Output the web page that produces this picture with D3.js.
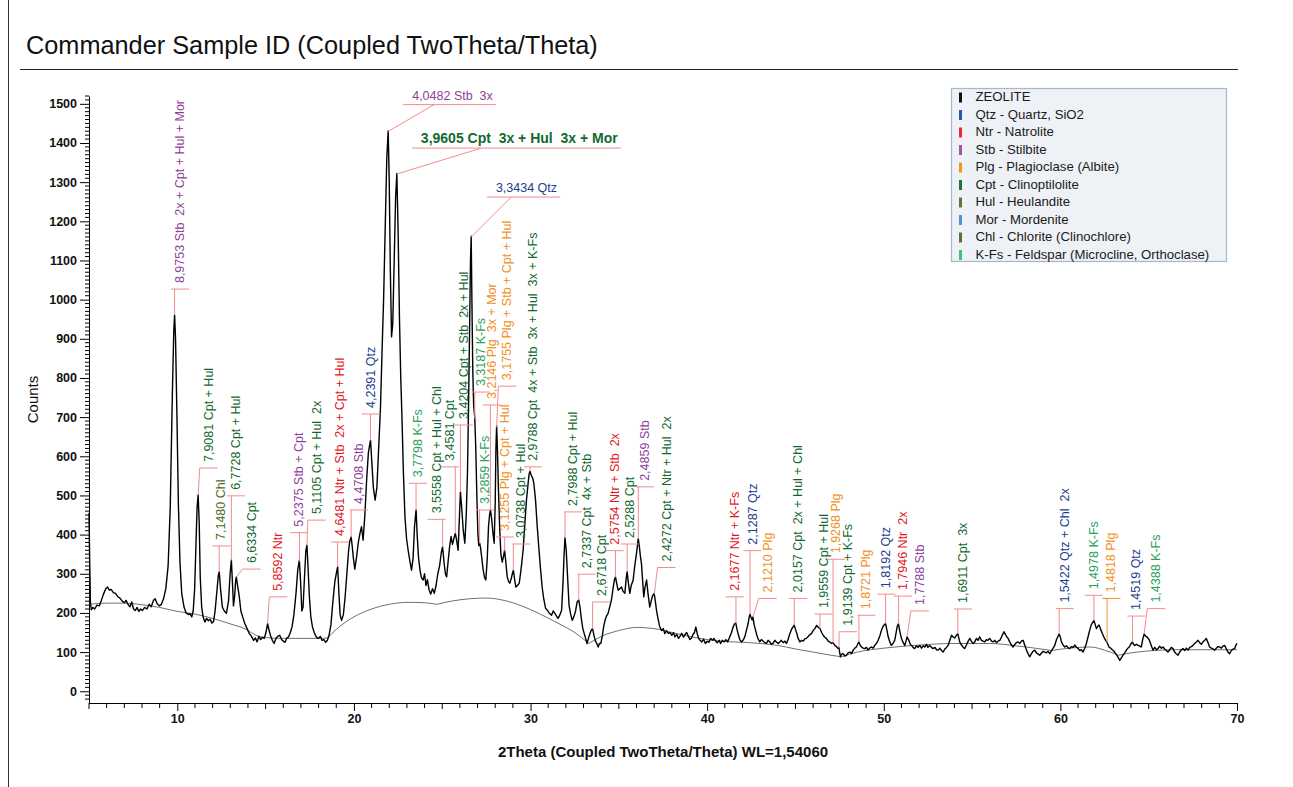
<!DOCTYPE html>
<html>
<head>
<meta charset="utf-8">
<script src="https://cdn.jsdelivr.net/npm/d3@7"></script>
<style>
  body { margin: 0; background: #fff; }
  svg { display: block; font-family: "Liberation Sans", Arial, sans-serif; }
</style>
</head>
<body>
<svg id="chart" width="1293" height="787"></svg>
<script>
// ---- measured diffractogram: [2Theta (deg), counts] ----
const pattern = [
[5.00,455],[5.04,330],[5.08,228],[5.13,208],[5.22,214],[5.32,210],[5.45,220],[5.58,218],[5.7,232],[5.82,248],
[5.95,262],[6.05,266],[6.15,258],[6.25,260],[6.38,252],[6.5,250],[6.62,242],[6.75,238],[6.88,230],[7.0,226],
[7.1,232],[7.2,222],[7.32,216],[7.42,228],[7.52,210],[7.62,206],[7.72,214],[7.82,204],[7.92,210],[8.02,206],
[8.15,214],[8.28,210],[8.4,222],[8.52,216],[8.65,232],[8.75,236],[8.85,224],[8.98,218],[9.1,222],[9.22,236],
[9.35,262],[9.48,320],[9.6,470],[9.72,760],[9.8,920],[9.847,961],[9.9,900],[9.98,700],[10.06,480],[10.15,330],
[10.25,250],[10.38,215],[10.5,200],[10.62,196],[10.72,198],[10.82,190],[10.9,205],[10.98,260],[11.06,380],[11.12,470],
[11.18,501],[11.24,430],[11.3,290],[11.38,215],[11.46,190],[11.56,177],[11.66,186],[11.76,180],[11.86,184],[11.96,174],
[12.05,178],[12.14,205],[12.24,255],[12.32,295],[12.373,305],[12.45,260],[12.55,215],[12.66,205],[12.78,199],[12.9,230],
[12.99,300],[13.06,335],[13.12,280],[13.18,218],[13.25,245],[13.3,280],[13.34,292],[13.42,268],[13.5,245],[13.6,205],
[13.7,190],[13.82,173],[13.95,160],[14.08,147],[14.2,140],[14.32,130],[14.42,136],[14.52,126],[14.62,140],[14.72,132],
[14.82,138],[14.92,135],[15.02,150],[15.11,173],[15.2,155],[15.28,142],[15.38,130],[15.48,122],[15.58,134],[15.68,140],
[15.8,143],[15.9,132],[16.0,128],[16.1,125],[16.2,136],[16.3,139],[16.4,150],[16.5,165],[16.6,195],[16.72,250],
[16.82,310],[16.91,335],[16.98,280],[17.05,205],[17.12,215],[17.2,290],[17.28,360],[17.34,373],[17.4,320],[17.48,240],
[17.56,190],[17.65,165],[17.75,150],[17.86,139],[17.98,135],[18.1,140],[18.2,130],[18.3,132],[18.4,125],[18.5,130],
[18.6,145],[18.7,170],[18.8,225],[18.92,280],[19.02,305],[19.08,318],[19.15,250],[19.22,195],[19.3,181],[19.4,195],
[19.5,240],[19.6,300],[19.7,360],[19.76,382],[19.84,394],[19.9,372],[19.97,340],[20.05,312],[20.15,343],[20.25,380],
[20.35,405],[20.43,420],[20.52,386],[20.62,450],[20.72,540],[20.82,610],[20.94,641],[21.02,580],[21.1,520],[21.2,488],
[21.3,520],[21.4,620],[21.5,720],[21.6,880],[21.68,1000],[21.78,1200],[21.86,1360],[21.94,1431],[22.0,1300],[22.06,1080],
[22.13,905],[22.2,940],[22.28,1100],[22.36,1260],[22.43,1322],[22.5,1180],[22.58,950],[22.65,803],[22.72,700],[22.8,560],
[22.89,445],[22.98,390],[23.07,360],[23.16,335],[23.26,309],[23.35,340],[23.43,420],[23.52,463],[23.58,400],[23.66,340],
[23.74,310],[23.82,290],[23.92,284],[24.0,300],[24.08,270],[24.16,285],[24.25,260],[24.35,248],[24.45,262],[24.55,250],
[24.65,270],[24.75,300],[24.85,320],[24.95,355],[25.02,369],[25.1,330],[25.18,300],[25.25,292],[25.33,330],[25.42,370],
[25.5,395],[25.58,375],[25.66,390],[25.74,403],[25.8,390],[25.9,360],[25.97,440],[26.03,509],[26.1,470],[26.19,411],
[26.28,378],[26.36,450],[26.43,560],[26.5,760],[26.56,960],[26.6,1100],[26.64,1162],[26.68,1000],[26.73,820],[26.78,730],
[26.84,700],[26.9,620],[26.96,500],[27.02,400],[27.07,372],[27.12,378],[27.17,366],[27.24,340],[27.32,309],[27.4,290],
[27.47,284],[27.55,340],[27.62,420],[27.68,450],[27.73,463],[27.8,440],[27.88,400],[27.94,378],[28.0,480],[28.04,620],
[28.08,678],[28.13,610],[28.18,520],[28.25,420],[28.32,350],[28.4,330],[28.47,345],[28.53,360],[28.6,330],[28.68,292],
[28.76,280],[28.83,276],[28.92,290],[28.98,302],[29.03,309],[29.1,285],[29.17,266],[29.26,270],[29.36,276],[29.46,310],
[29.58,360],[29.68,430],[29.77,488],[29.86,530],[29.92,555],[29.97,562],[30.05,550],[30.12,545],[30.19,530],[30.28,490],
[30.38,420],[30.48,360],[30.57,310],[30.66,265],[30.75,235],[30.85,212],[30.95,207],[31.05,200],[31.19,194],[31.28,205],
[31.38,199],[31.47,192],[31.56,186],[31.66,195],[31.76,207],[31.84,280],[31.9,350],[31.95,392],[32.02,360],[32.1,290],
[32.18,220],[32.26,199],[32.36,181],[32.45,190],[32.55,205],[32.64,228],[32.73,233],[32.8,215],[32.89,181],[32.96,160],
[33.04,147],[33.12,135],[33.2,122],[33.28,135],[33.36,147],[33.44,156],[33.51,160],[33.58,145],[33.66,130],[33.75,122],
[33.83,113],[33.9,122],[33.98,122],[34.06,140],[34.14,165],[34.22,181],[34.3,192],[34.39,199],[34.48,215],[34.58,233],
[34.68,265],[34.75,285],[34.81,292],[34.88,275],[34.96,258],[35.05,262],[35.15,266],[35.24,255],[35.34,250],[35.42,290],
[35.47,305],[35.53,280],[35.62,250],[35.7,270],[35.81,284],[35.9,320],[36.0,352],[36.06,375],[36.1,390],[36.16,370],
[36.22,345],[36.28,326],[36.35,280],[36.41,241],[36.48,265],[36.57,284],[36.65,250],[36.75,215],[36.84,232],[36.92,245],
[37.0,250],[37.06,232],[37.13,207],[37.22,185],[37.32,164],[37.42,155],[37.52,160],[37.6,147],[37.7,155],[37.8,148],
[37.9,150],[38.0,143],[38.1,150],[38.17,139],[38.28,145],[38.38,135],[38.46,140],[38.56,148],[38.66,138],[38.75,145],
[38.84,150],[38.94,140],[39.02,132],[39.1,135],[39.2,145],[39.28,150],[39.36,164],[39.45,145],[39.52,135],[39.6,130],
[39.7,126],[39.8,133],[39.9,122],[40.0,128],[40.1,125],[40.2,135],[40.3,130],[40.38,135],[40.48,128],[40.58,124],
[40.68,130],[40.76,122],[40.86,130],[40.96,126],[41.06,132],[41.16,126],[41.28,139],[41.38,150],[41.47,164],[41.55,172],
[41.62,175],[41.68,160],[41.75,147],[41.85,132],[41.94,126],[42.03,130],[42.13,139],[42.22,155],[42.32,173],[42.38,190],
[42.43,197],[42.5,186],[42.55,182],[42.59,190],[42.66,170],[42.79,147],[42.88,134],[42.98,126],[43.07,132],[43.17,128],
[43.26,124],[43.36,122],[43.45,130],[43.55,126],[43.64,120],[43.74,123],[43.83,130],[43.92,126],[44.02,122],[44.11,126],
[44.2,130],[44.3,124],[44.4,128],[44.49,122],[44.58,132],[44.68,147],[44.8,160],[44.93,169],[45.0,158],[45.08,147],
[45.15,135],[45.25,126],[45.34,130],[45.44,128],[45.53,134],[45.62,135],[45.72,140],[45.81,144],[45.9,147],[46.0,155],
[46.1,160],[46.2,168],[46.3,163],[46.39,160],[46.48,150],[46.57,143],[46.66,138],[46.75,135],[46.85,128],[46.94,126],
[47.04,122],[47.13,124],[47.23,117],[47.32,114],[47.4,110],[47.46,112],[47.5,100],[47.55,88],[47.62,95],[47.7,96],
[47.8,90],[47.89,92],[47.98,98],[48.08,100],[48.18,96],[48.27,105],[48.36,110],[48.45,113],[48.52,120],[48.59,126],
[48.66,118],[48.74,113],[48.83,110],[48.92,109],[49.02,112],[49.11,105],[49.2,110],[49.3,113],[49.4,110],[49.49,117],
[49.58,122],[49.68,130],[49.78,142],[49.87,156],[49.96,166],[50.1,173],[50.18,156],[50.25,139],[50.34,126],[50.43,117],
[50.52,122],[50.62,130],[50.7,150],[50.76,165],[50.83,173],[50.9,155],[51.0,135],[51.1,124],[51.19,117],[51.26,128],
[51.32,139],[51.42,130],[51.5,120],[51.57,117],[51.66,112],[51.75,109],[51.85,116],[51.95,112],[52.04,117],[52.14,110],
[52.23,116],[52.32,113],[52.42,120],[52.5,112],[52.6,117],[52.7,112],[52.79,109],[52.9,112],[52.99,106],[53.08,105],
[53.18,110],[53.27,104],[53.36,100],[53.46,108],[53.55,112],[53.64,117],[53.74,130],[53.84,143],[53.92,139],[54.02,136],
[54.11,143],[54.19,147],[54.3,126],[54.4,118],[54.5,112],[54.58,109],[54.68,118],[54.78,128],[54.87,135],[54.96,128],
[55.06,122],[55.15,126],[55.25,135],[55.34,130],[55.43,139],[55.53,130],[55.62,128],[55.72,126],[55.81,132],[55.9,130],
[56.0,135],[56.1,128],[56.19,126],[56.29,130],[56.38,124],[56.47,128],[56.57,130],[56.66,138],[56.74,146],[56.81,152],
[56.9,144],[56.98,138],[57.04,135],[57.13,126],[57.23,118],[57.32,113],[57.42,120],[57.51,124],[57.6,126],[57.7,122],
[57.79,128],[57.89,130],[57.98,118],[58.08,105],[58.17,96],[58.26,88],[58.36,96],[58.45,102],[58.55,105],[58.64,98],
[58.74,95],[58.83,92],[58.92,97],[59.02,102],[59.11,100],[59.2,98],[59.3,102],[59.4,96],[59.5,104],[59.59,110],
[59.68,117],[59.78,132],[59.93,146],[60.0,138],[60.06,126],[60.15,118],[60.25,113],[60.34,116],[60.44,111],[60.53,109],
[60.62,114],[60.72,112],[60.81,118],[60.9,113],[61.0,109],[61.1,104],[61.19,106],[61.28,100],[61.38,110],[61.47,122],
[61.56,138],[61.66,156],[61.75,170],[61.9,181],[61.96,172],[62.04,160],[62.12,166],[62.19,169],[62.28,158],[62.38,147],
[62.47,138],[62.56,130],[62.64,125],[62.75,113],[62.85,110],[62.94,106],[63.02,103],[63.1,98],[63.19,92],[63.28,86],
[63.36,79],[63.45,85],[63.55,92],[63.64,98],[63.74,105],[63.82,110],[63.9,113],[63.98,120],[64.08,126],[64.14,120],
[64.21,117],[64.3,120],[64.4,117],[64.49,115],[64.58,113],[64.66,132],[64.74,146],[64.83,140],[64.92,138],[65.02,132],
[65.12,120],[65.24,105],[65.34,112],[65.44,106],[65.53,109],[65.62,115],[65.72,110],[65.81,113],[65.9,108],[66.0,104],
[66.09,100],[66.19,106],[66.28,112],[66.38,109],[66.47,100],[66.56,96],[66.66,92],[66.75,100],[66.85,106],[66.94,109],
[67.04,104],[67.13,110],[67.23,105],[67.32,112],[67.42,114],[67.51,117],[67.6,122],[67.7,126],[67.79,130],[67.89,124],
[67.98,120],[68.07,126],[68.17,130],[68.26,135],[68.36,124],[68.45,113],[68.55,110],[68.64,108],[68.74,105],[68.83,110],
[68.92,114],[69.02,113],[69.11,110],[69.2,115],[69.3,117],[69.4,108],[69.49,100],[69.58,96],[69.68,104],[69.78,108],
[69.87,109],[69.94,118],[70.0,122]
];

// ---- fitted background, one list per arc ----
const backgroundArcs = [
  [[5,222],[6,225],[7,225],[8,221],[9,214],[10,204],[11,197],[12,186],[13,172],[13.9,158],[14.5,142],[15,137],[16,135],[17,135],[18,135],[18.5,136]],
  [[18.5,136],[19,158],[20,190],[21,210],[22,222],[23,227],[24,226],[24.7,222]],
  [[24.7,222],[25.5,230],[26.5,236],[27.5,238],[28.5,232],[29.5,218],[30.5,198],[31.5,175],[32.5,150],[33.3,122]],
  [[33.3,122],[34,140],[35,155],[36,163],[37,160],[38,150],[39,140],[40,132],[41,127],[42,125],[43,122],[44,117],[45,108],[46,100],[47,92],[47.6,88]],
  [[47.6,88],[48.5,100],[50,110],[52,118],[54,122],[56,122],[57.5,116],[59.5,104]],
  [[59.5,104],[60.5,110],[61.7,113],[62.5,105],[63.3,92]],
  [[63.3,92],[64,98],[65,103],[66.5,106],[68,106],[70,106]]
];

// ---- phase identification: d-spacing (Angstrom), assigned phases, leading phase ----
const peakIds = [
  [8.9753, "Stb  2x + Cpt + Hul + Mor", "Stb"],
  [7.9081, "Cpt + Hul", "Cpt"],
  [7.1480, "Chl", "Chl"],
  [6.7728, "Cpt + Hul", "Cpt"],
  [6.6334, "Cpt", "Cpt"],
  [5.8592, "Ntr", "Ntr"],
  [5.2375, "Stb + Cpt", "Stb"],
  [5.1105, "Cpt + Hul  2x", "Cpt"],
  [4.6481, "Ntr + Stb  2x + Cpt + Hul", "Ntr"],
  [4.4708, "Stb", "Stb"],
  [4.2391, "Qtz", "Qtz"],
  [4.0482, "Stb  3x", "Stb"],
  [3.9605, "Cpt  3x + Hul  3x + Mor", "Cpt"],
  [3.7798, "K-Fs", "K-Fs"],
  [3.5558, "Cpt + Hul + Chl", "Cpt"],
  [3.4581, "Cpt", "Cpt"],
  [3.4204, "Cpt + Stb  2x + Hul", "Cpt"],
  [3.3434, "Qtz", "Qtz"],
  [3.3187, "K-Fs", "K-Fs"],
  [3.2859, "K-Fs", "K-Fs"],
  [3.2146, "Plg  3x + Mor", "Plg"],
  [3.1755, "Plg + Stb + Cpt + Hul", "Plg"],
  [3.1255, "Plg + Cpt + Hul", "Plg"],
  [3.0738, "Cpt + Hul", "Cpt"],
  [2.9788, "Cpt  4x + Stb  3x + Hul  3x + K-Fs", "Cpt"],
  [2.7988, "Cpt + Hul", "Cpt"],
  [2.7337, "Cpt  4x + Stb", "Cpt"],
  [2.6718, "Cpt", "Cpt"],
  [2.5754, "Ntr + Stb  2x", "Ntr"],
  [2.5288, "Cpt", "Cpt"],
  [2.4859, "Stb", "Stb"],
  [2.4272, "Cpt + Ntr + Hul  2x", "Cpt"],
  [2.1677, "Ntr + K-Fs", "Ntr"],
  [2.1287, "Qtz", "Qtz"],
  [2.1210, "Plg", "Plg"],
  [2.0157, "Cpt  2x + Hul + Chl", "Cpt"],
  [1.9559, "Cpt + Hul", "Cpt"],
  [1.9268, "Plg", "Plg"],
  [1.9139, "Cpt + K-Fs", "Cpt"],
  [1.8721, "Plg", "Plg"],
  [1.8192, "Qtz", "Qtz"],
  [1.7946, "Ntr  2x", "Ntr"],
  [1.7788, "Stb", "Stb"],
  [1.6911, "Cpt  3x", "Cpt"],
  [1.5422, "Qtz + Chl  2x", "Qtz"],
  [1.4978, "K-Fs", "K-Fs"],
  [1.4818, "Plg", "Plg"],
  [1.4519, "Qtz", "Qtz"],
  [1.4388, "K-Fs", "K-Fs"]
];

// label anchor in data units: [2Theta, counts, style]  v = vertical, h = horizontal, H = large horizontal
const labelAnchors = [
  [10.15,1027,"v"],[11.78,570,"v"],[12.50,371,"v"],[13.32,499,"v"],[14.21,312,"v"],
  [15.72,241,"v"],[16.89,405,"v"],[17.90,437,"v"],[19.21,381,"v"],[20.28,463,"v"],
  [20.96,708,"v"],[22.79,1498,"h"],[23.28,1387,"H"],[23.62,531,"v"],[24.68,439,"v"],
  [25.43,573,"v"],[26.22,680,"v"],[27.53,1262,"h"],[27.19,764,"v"],[27.41,463,"v"],
  [27.81,731,"v"],[28.69,779,"v"],[28.55,394,"v"],[29.48,376,"v"],[30.13,573,"v"],
  [32.40,458,"v"],[33.17,299,"v"],[34.02,228,"v"],[34.77,359,"v"],[35.62,376,"v"],
  [36.47,522,"v"],[37.70,316,"v"],[41.57,241,"v"],[42.57,359,"v"],[43.43,237,"v"],
  [45.15,237,"v"],[46.60,197,"v"],[47.32,337,"v"],[47.98,152,"v"],[49.02,194,"v"],
  [50.15,248,"v"],[51.09,243,"v"],[52.04,205,"v"],[54.49,210,"v"],[60.25,211,"v"],
  [61.89,245,"v"],[62.89,237,"v"],[64.30,192,"v"],[65.43,211,"v"]
];
// identifications whose leader is drawn in the phase colour
const emphasisedIds = [1.4818];

const legendNames = [
  "ZEOLITE", "Qtz - Quartz, SiO2", "Ntr - Natrolite", "Stb - Stilbite", "Plg - Plagioclase (Albite)",
  "Cpt - Clinoptilolite", "Hul - Heulandite", "Mor - Mordenite", "Chl - Chlorite (Clinochlore)",
  "K-Fs - Feldspar (Microcline, Orthoclase)"
];
const legendColors = ["#111111","#2157b0","#ec2a2f","#a056ae","#f7941f","#17773a","#5c7a36","#4f93d6","#5a6e3e","#3fc07f"];

const xTicks = [10, 20, 30, 40, 50, 60, 70];
const yTicks = d3.range(0, 1501, 100);

const WAVELENGTH = 1.54060;
const labelInk = {
  "Stb": "#8e3f9b", "Cpt": "#12692f", "Ntr": "#e3161d", "Qtz": "#1d3d8e",
  "Plg": "#f0901d", "K-Fs": "#2aa05c", "Chl": "#4e6a28"
};
const leaderInk = "#f28c8c";

// ---- scales ----
const x = d3.scaleLinear().domain([5, 70]).range([89, 1237]);
const y = d3.scaleLinear().domain([-30, 1520]).range([703, 96]);

const svg = d3.select("#chart");

// frame and title
svg.append("line").attr("x1", 8.5).attr("x2", 8.5).attr("y1", 0).attr("y2", 787)
  .attr("stroke", "#333").attr("stroke-width", 1);
svg.append("text").attr("x", 26).attr("y", 54).attr("font-size", 25.3).attr("fill", "#111")
  .text("Commander Sample ID (Coupled TwoTheta/Theta)");
svg.append("line").attr("x1", 20).attr("x2", 1238).attr("y1", 69.5).attr("y2", 69.5)
  .attr("stroke", "#222").attr("stroke-width", 1);

// ---- axes ----
const gx = svg.append("g").attr("transform", "translate(0,703)")
  .call(d3.axisBottom(x).tickValues(xTicks).tickSize(8).tickSizeOuter(0).tickFormat(d3.format("d")));
gx.selectAll("text").attr("font-size", 12.5).attr("font-weight", "bold")
  .attr("font-family", "'Liberation Sans', Arial, sans-serif").attr("fill", "#111");
gx.append("g").selectAll("line")
  .data(d3.range(5, 71, 1).filter(v => v % 10 !== 0))
  .join("line")
  .attr("x1", d => x(d)).attr("x2", d => x(d))
  .attr("y1", 0).attr("y2", d => d % 5 === 0 ? 6 : 5)
  .attr("stroke", "#000");

const gy = svg.append("g").attr("transform", "translate(89,0)")
  .call(d3.axisLeft(y).tickValues(yTicks).tickSize(9).tickSizeOuter(0).tickFormat(d3.format("d")));
gy.selectAll("text").attr("font-size", 12.5).attr("font-weight", "bold")
  .attr("font-family", "'Liberation Sans', Arial, sans-serif").attr("fill", "#111");
gy.append("g").selectAll("line")
  .data(d3.range(-20, 1521, 10).filter(v => v % 100 !== 0))
  .join("line")
  .attr("x1", 0).attr("x2", -4)
  .attr("y1", d => y(d)).attr("y2", d => y(d))
  .attr("stroke", "#000");

svg.append("text")
  .attr("transform", `translate(38,${(y(-30) + y(1520)) / 2}) rotate(-90)`)
  .attr("text-anchor", "middle").attr("font-size", 15).attr("fill", "#111")
  .text("Counts");
svg.append("text")
  .attr("x", (x(5) + x(70)) / 2).attr("y", 757)
  .attr("text-anchor", "middle").attr("font-size", 15).attr("font-weight", "bold").attr("fill", "#111")
  .text("2Theta (Coupled TwoTheta/Theta) WL=1,54060");

// ---- background and pattern ----
const bgLine = d3.line().x(d => x(d[0])).y(d => y(d[1])).curve(d3.curveMonotoneX);
svg.append("g").selectAll("path").data(backgroundArcs).join("path")
  .attr("d", bgLine).attr("fill", "none").attr("stroke", "#4a4a4a").attr("stroke-width", 0.8);

const scanLine = d3.line().x(d => x(d[0])).y(d => y(d[1]));
svg.append("path").datum(pattern).attr("d", scanLine)
  .attr("fill", "none").attr("stroke", "#000").attr("stroke-width", 1.4).attr("stroke-linejoin", "round");

// ---- peak identifications ----
const bisect = d3.bisector(d => d[0]).left;
function countsAt(t) {
  const i = Math.max(1, Math.min(pattern.length - 1, bisect(pattern, t)));
  const a = pattern[i - 1], b = pattern[i];
  return a[1] + (b[1] - a[1]) * (t - a[0]) / (b[0] - a[0]);
}
const braggAngle = d => 2 * Math.asin(WAVELENGTH / (2 * d)) * 180 / Math.PI;
const fmtD = d => d.toFixed(4).replace(".", ",");

const gLab = svg.append("g");
peakIds.forEach((row, i) => {
  const [d, phases, lead] = row;
  const [at, lvl, style] = labelAnchors[i];
  const t = braggAngle(d);
  const px = x(t), py = y(countsAt(t));
  const bx = x(at), by = y(lvl);
  const ink = labelInk[lead];
  const lineInk = emphasisedIds.includes(d) ? ink : leaderInk;
  const str = fmtD(d) + " " + phases;

  if (style === "v") {
    const half = 9;
    gLab.append("text")
      .attr("transform", `translate(${bx},${by - 6}) rotate(-90)`)
      .attr("dominant-baseline", "central")
      .attr("font-size", 12.5).attr("fill", ink)
      .style("white-space", "pre").text(str);
    gLab.append("line").attr("x1", bx - half).attr("x2", bx + half).attr("y1", by).attr("y2", by)
      .attr("stroke", lineInk).attr("stroke-width", 1);
    const lx = Math.max(bx - half, Math.min(bx + half, px));
    gLab.append("line").attr("x1", lx).attr("y1", by).attr("x2", px).attr("y2", py)
      .attr("stroke", lineInk).attr("stroke-width", 1);
  } else {
    const big = style === "H";
    const txt = gLab.append("text")
      .attr("x", bx + 9).attr("y", by - 5)
      .attr("font-size", big ? 14 : 12.5).attr("font-weight", big ? "bold" : "normal")
      .attr("fill", ink).style("white-space", "pre").text(str);
    const w = txt.node().getComputedTextLength() + 12;
    gLab.append("line").attr("x1", bx).attr("x2", bx + w).attr("y1", by).attr("y2", by)
      .attr("stroke", lineInk).attr("stroke-width", 1);
    gLab.append("line").attr("x1", bx + w / 3).attr("y1", by).attr("x2", px).attr("y2", py)
      .attr("stroke", lineInk).attr("stroke-width", 1);
  }
});

// ---- legend ----
const lg = svg.append("g").attr("transform", "translate(951.5,88.5)");
lg.append("rect").attr("width", 275).attr("height", 173)
  .attr("fill", "#eef1f5").attr("stroke", "#a7b8c9").attr("stroke-width", 1.2);
const rows = lg.selectAll("g.row").data(legendNames).join("g")
  .attr("class", "row").attr("transform", (d, i) => `translate(0,${8 + i * 17.5})`);
rows.append("rect").attr("x", 7.5).attr("y", -4).attr("width", 3).attr("height", 10)
  .attr("fill", (d, i) => legendColors[i]);
rows.append("text").attr("x", 24).attr("y", 0).attr("dominant-baseline", "central")
  .attr("font-size", 13.2).attr("fill", "#1a1a1a").text(d => d);
</script>
</body>
</html>
